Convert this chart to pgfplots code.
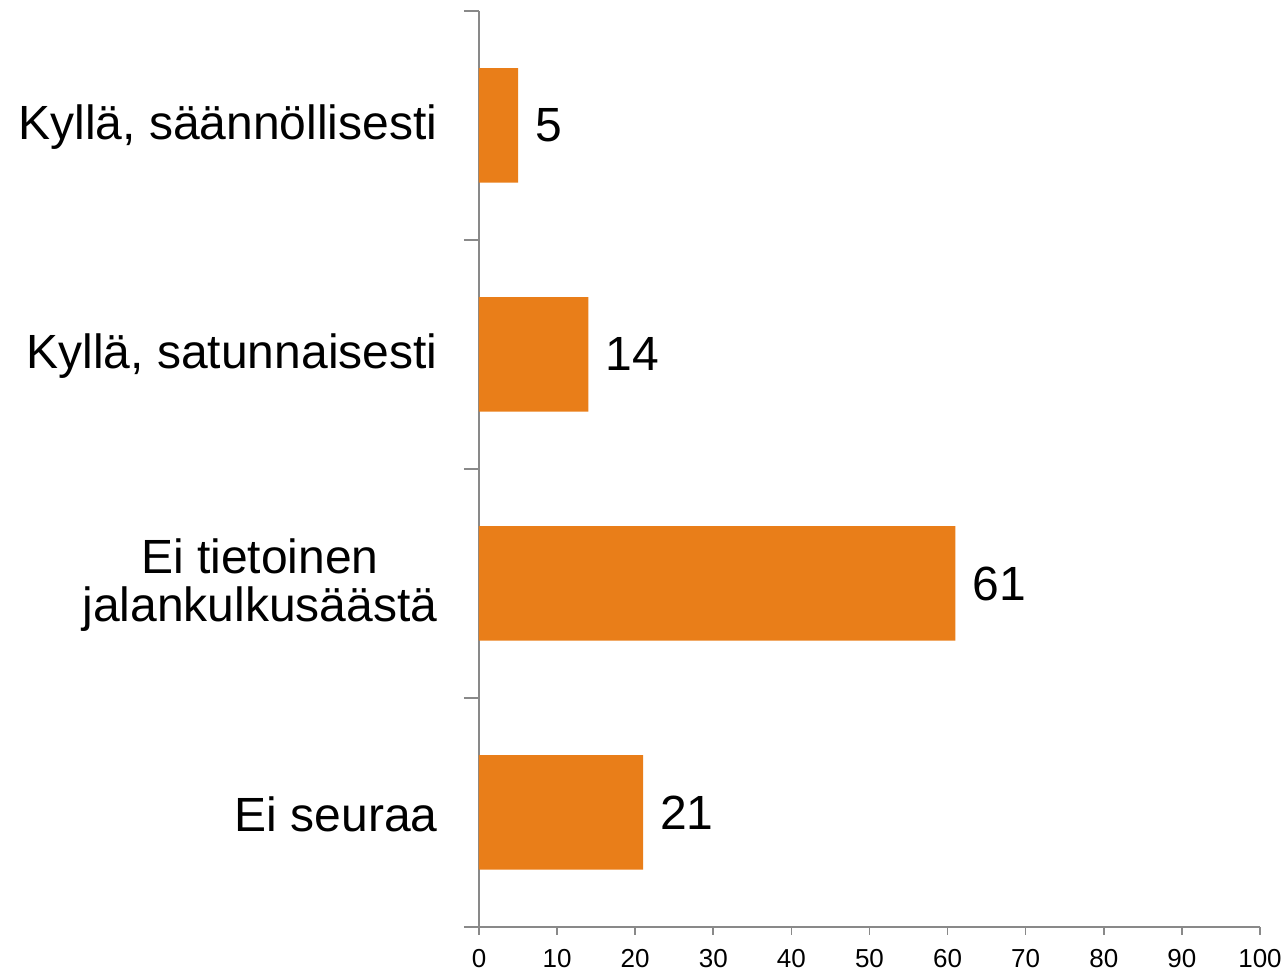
\documentclass[border=0pt]{standalone}
\usepackage{pgfplots}
\pgfplotsset{compat=1.18}
\usepackage{fontspec}
\setmainfont{Liberation Sans}
\definecolor{barorange}{RGB}{233,126,25}
\definecolor{axisgray}{RGB}{137,137,137}

\begin{document}
\begin{tikzpicture}
\useasboundingbox (-479pt,-46pt) rectangle (807pt,927pt);
\begin{axis}[
  scale only axis,
  width=781pt, height=916pt,
  xbar,
  bar width=0.5,
  xmin=0, xmax=100,
  ymin=-0.5, ymax=3.5,
  xtick={0,10,...,100},
  ytick={0,1,2,3},
  yticklabels={Ei seuraa,{Ei tietoinen\\jalankulkusäästä},{Kyllä, satunnaisesti},{Kyllä, säännöllisesti}},
  minor ytick={-0.5,0.5,1.5,2.5,3.5},
  axis x line*=bottom,
  axis y line*=left,
  axis line style={axisgray, line width=1.6pt, -},
  tick align=outside,
  major tick length=8pt,
  minor tick length=15pt,
  every tick/.style={axisgray, line width=1.6pt},
  major y tick style={draw=none},
  minor y tick style={axisgray, line width=1.6pt},
  /pgf/number format/assume math mode=true,
  x tick label style={font=\fontsize{26}{30}\selectfont, yshift=-11pt},
  y tick label style={font=\fontsize{48}{48}\selectfont, align=center, xshift=-30pt, yshift=-2pt},
  nodes near coords,
  every node near coord/.append style={font=\fontsize{48}{52}\selectfont, black, anchor=west, inner sep=0pt, xshift=17pt},
]
\addplot[fill=barorange, draw=none] coordinates {
  (21,0)
  (61,1)
  (14,2)
  (5,3)
};
\end{axis}
\end{tikzpicture}
\end{document}
